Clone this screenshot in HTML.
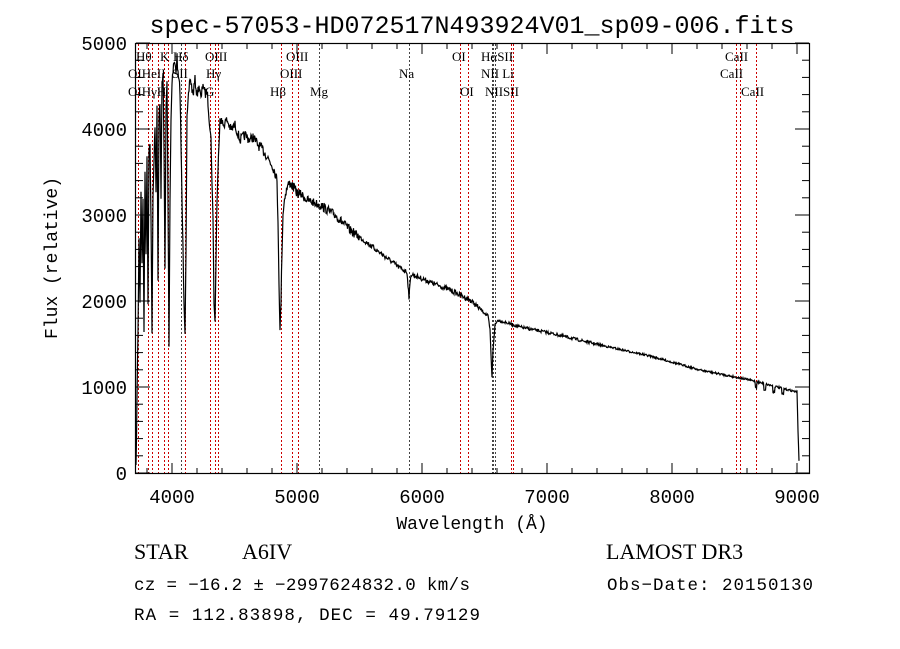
<!DOCTYPE html>
<html><head><meta charset="utf-8"><style>
html,body{margin:0;padding:0;background:#fff;}
svg{display:block;}
</style></head><body>
<svg id="s" width="900" height="649" xmlns="http://www.w3.org/2000/svg">
<rect width="900" height="649" fill="#fff"/>
<text x="472" y="33" font-family="Liberation Mono, monospace" font-size="25" text-anchor="middle" fill="#000">spec-57053-HD072517N493924V01_sp09-006.fits</text>
<g id="lines"></g>
<polyline id="spec" fill="none" stroke="#000" stroke-width="1.2"/>
<rect x="135.5" y="43.5" width="674" height="430" fill="none" stroke="#000" stroke-width="1.2"/>
<g id="ticks" stroke="#000" stroke-width="1"></g>
<g font-family="Liberation Mono, monospace" font-size="19" fill="#000" id="lab"></g>
<text x="472" y="529" font-family="Liberation Mono, monospace" font-size="18" text-anchor="middle">Wavelength (Å)</text>
<text transform="translate(57,258) rotate(-90)" font-family="Liberation Mono, monospace" font-size="18" text-anchor="middle">Flux (relative)</text>
<g font-family="Liberation Serif, serif" font-size="13" fill="#000" id="ll"></g>
<g font-family="Liberation Serif, serif" font-size="22" fill="#000">
<text x="134" y="559">STAR</text><text x="242" y="559">A6IV</text>
<text x="606" y="559">LAMOST DR3</text>
</g>
<g font-family="Liberation Mono, monospace" font-size="17.5" fill="#000">
<text x="134" y="590" textLength="336">cz = −16.2 ± −2997624832.0 km/s</text>
<text x="607" y="590" textLength="206">Obs−Date: 20150130</text>
<text x="134" y="620" textLength="346">RA = 112.83898, DEC =  49.79129</text>
</g>
</svg>
<script>
var NS="http://www.w3.org/2000/svg";
function el(p,t,a,txt){var e=document.createElementNS(NS,t);for(var k in a)e.setAttribute(k,a[k]);if(txt)e.textContent=txt;document.getElementById(p).appendChild(e);return e;}
var L=[[138,'r'],[148,'r'],[152,'r'],[158,'r'],[164,'r'],[168,'r'],[181,'k'],[185,'r'],[210,'r'],[215,'r'],[218,'r'],[281,'r'],[292,'r'],[298,'r'],[319,'k'],[409,'k'],[460,'r'],[468,'r'],[492,'k'],[493,'k'],[495,'k'],[511,'r'],[513,'r'],[736,'r'],[740,'r'],[756,'r']];
L.forEach(function(l){el('lines','line',{x1:l[0]+.5,x2:l[0]+.5,y1:44,y2:473,stroke:l[1]=='r'?'#c00':'#444','stroke-width':1,'stroke-dasharray':'2,2'});});
var T=[[136,61,'Hθ'],[160,61,'K'],[173,61,'Hδ'],[205,61,'OIII'],[286,61,'OIII'],[452,61,'OI'],[481,61,'HαSII'],[725,61,'CaII'],
[128,78,'OIHeII'],[172,78,'SII'],[206,78,'Hγ'],[280,78,'OIII'],[399,78,'Na'],[481,78,'NII Li'],[720,78,'CaII'],
[128,96,'OIHγH'],[205,96,'G'],[270,96,'Hβ'],[310,96,'Mg'],[460,96,'OI'],[485,96,'NIISII'],[741,96,'CaII']];
T.forEach(function(t){el('ll','text',{x:t[0],y:t[1]},t[2]);});
for(var w=3800;w<=9000;w+=200){var x=172+(w-4000)*0.125;var big=w%1000==0;el('ticks','line',{x1:x,x2:x,y1:473,y2:473-(big?10:5)});el('ticks','line',{x1:x,x2:x,y1:44,y2:44+(big?10:5)});}
for(var f=0;f<=5000;f+=200){var y=473-f*0.086;var big=f%1000==0;el('ticks','line',{x1:136,x2:136+(big?14:7),y1:y,y2:y});el('ticks','line',{x1:809,x2:809-(big?14:7),y1:y,y2:y});}
for(var w=4000;w<=9000;w+=1000){el('lab','text',{x:172+(w-4000)*0.125,y:503,'text-anchor':'middle'},String(w));}
for(var f=0;f<=5000;f+=1000){el('lab','text',{x:127,y:473-f*0.086+7,'text-anchor':'end'},String(f));}
var K=[[136,470],[137,400],[138,330],[139,240],[140,300],[141,190],[142,260],[143,200],[144,330],[145,170],[146,250],[147,160],[148,300],[149,150],[150,140],[151,220],[152,330],[153,200],[155,123],[156,190],[157,110],[158,280],[159,120],[160,100],[161,200],[162,80],[163,73],[164,150],[165,270],[166,110],[167,80],[168,200],[169,343],[170,200],[171,120],[172,80],[174,62],[176,70],[177,57],[178,75],[180,90],[182,200],[184,300],[185,330],[186,250],[187,120],[189,90],[190,77],[193,95],[195,80],[197,95],[199,85],[201,100],[203,82],[205,95],[207,90],[209,115],[211,140],[213,220],[214,300],[215,323],[216,260],[217,200],[218,173],[219,140],[220,117],[223,125],[227,120],[231,130],[235,125],[240,140],[245,135],[250,140],[253,137],[258,145],[263,150],[268,158],[273,167],[276,175],[277,183],[278,220],[279,280],[280,333],[281,300],[282,250],[283,213],[285,195],[288,185],[290,183],[294,188],[297,193],[302,195],[307,200],[320,205],[335,215],[350,230],[370,245],[400,268],[407,272],[409,297],[411,274],[430,282],[450,290],[470,300],[488,316],[490,330],[491,355],[492,378],[493,350],[495,325],[498,320],[520,327],[550,333],[600,345],[650,356],[700,370],[750,380],[797,392],[798,430],[799,460]];
function base(x){for(var i=0;i<K.length-1;i++){if(x>=K[i][0]&&x<=K[i+1][0]){var t=(x-K[i][0])/((K[i+1][0]-K[i][0])||1);return K[i][1]+t*(K[i+1][1]-K[i][1]);}}return K[K.length-1][1];}
var seed=7;function rnd(){seed=(seed*16807)%2147483647;return seed/2147483647-0.5;}
var pts=[];
for(var x=136;x<=799;x+=0.5){var y=base(x);var amp=x<300?10:(x<360?9:(x<480?5:(x<600?3:2)));y+=rnd()*amp;
if(x>755&&x<790){var p=(x-755)%9;if(p<2)y+=6;}
pts.push(x.toFixed(1)+','+y.toFixed(1));}
document.getElementById('spec').setAttribute('points',pts.join(' '));
</script>
</body></html>
